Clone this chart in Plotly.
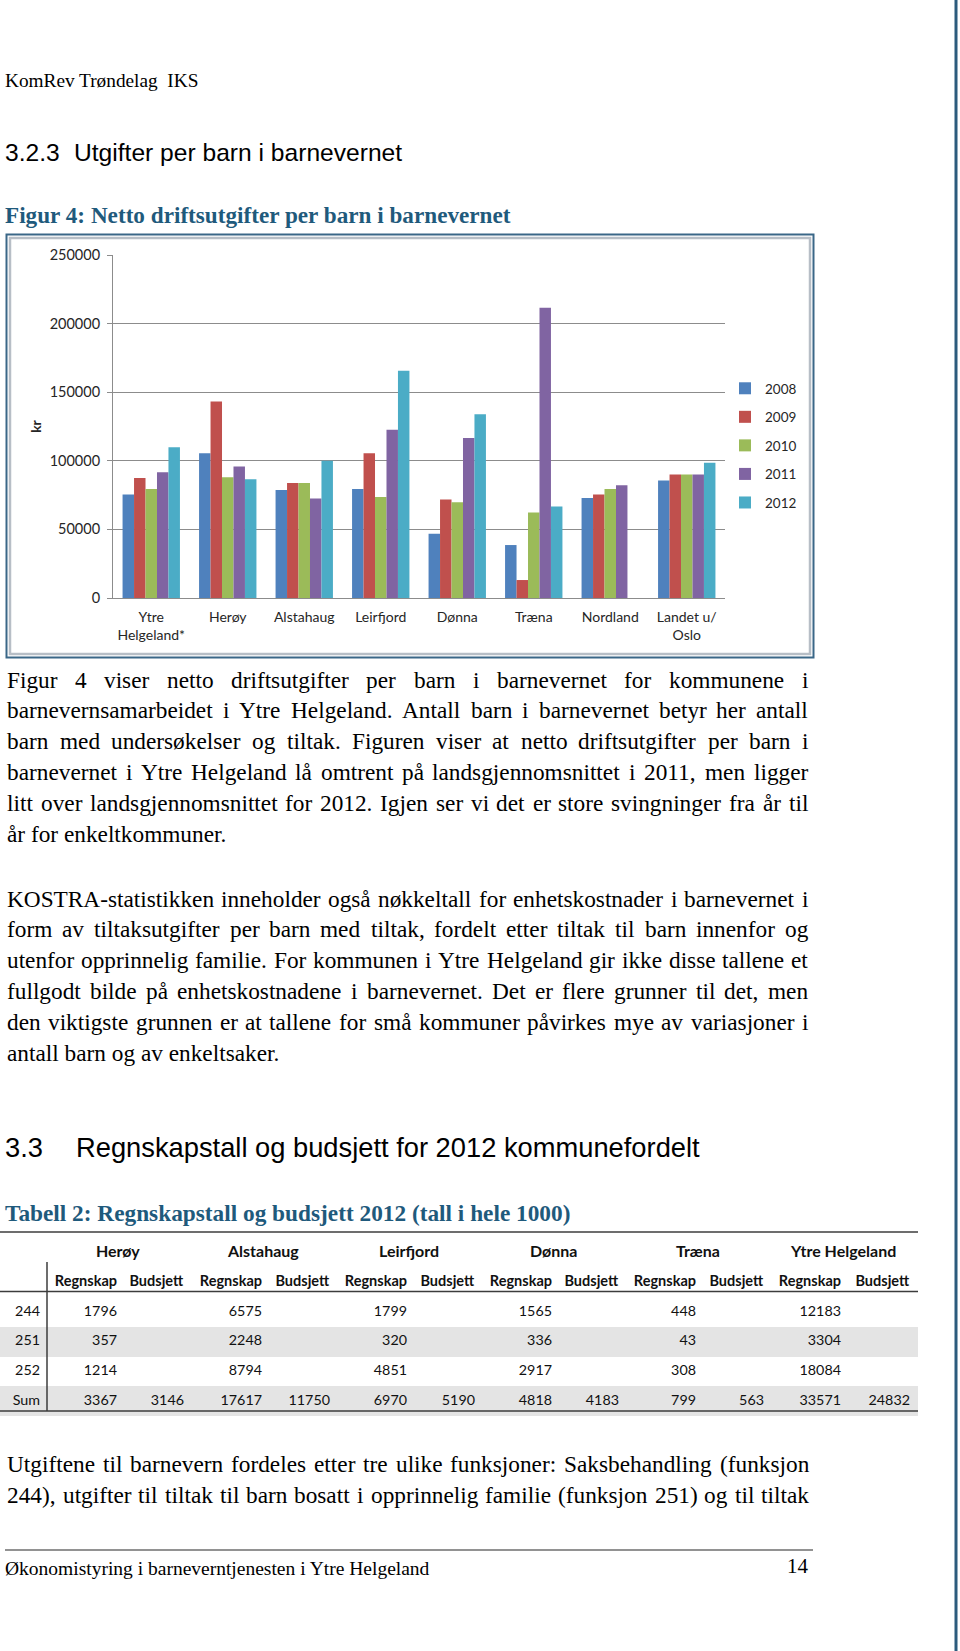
import plotly.graph_objects as go

W, H = 960, 1651


def X(px):
    return px / W


def Y(py):
    return 1 - py / H


# ---------------- chart data ----------------
categories = ["Ytre<br>Helgeland*", "Herøy", "Alstahaug", "Leirfjord", "Dønna",
              "Træna", "Nordland", "Landet u/<br>Oslo"]
years = ["2008", "2009", "2010", "2011", "2012"]
v2008 = [75400, 105500, 78800, 79500, 46800, 38600, 72800, 85600]
v2009 = [87500, 143300, 83900, 105500, 71800, 13100, 75400, 90000]
v2010 = [79500, 88000, 83900, 73700, 69800, 62300, 79500, 90000]
v2011 = [91700, 95800, 72500, 122700, 116600, 211500, 82200, 90000]
v2012 = [109900, 86600, 100100, 165600, 133900, 66700, None, 98500]
series = [v2008, v2009, v2010, v2011, v2012]
bar_colors = ["#4F81BD", "#C0504D", "#9BBB59", "#8064A2", "#4BACC6"]
y_ticks = [0, 50000, 100000, 150000, 200000, 250000]

# ---------------- table data ----------------
table_municipalities = ["Herøy", "Alstahaug", "Leirfjord", "Dønna", "Træna", "Ytre Helgeland"]
table_rows = ["244", "251", "252", "Sum"]
regnskap = {
    "Herøy": [1796, 357, 1214, 3367],
    "Alstahaug": [6575, 2248, 8794, 17617],
    "Leirfjord": [1799, 320, 4851, 6970],
    "Dønna": [1565, 336, 2917, 4818],
    "Træna": [448, 43, 308, 799],
    "Ytre Helgeland": [12183, 3304, 18084, 33571],
}
budsjett = {
    "Herøy": 3146,
    "Alstahaug": 11750,
    "Leirfjord": 5190,
    "Dønna": 4183,
    "Træna": 563,
    "Ytre Helgeland": 24832,
}

# ---------------- page text ----------------
header_text = "KomRev Trøndelag  IKS"
h323_num, h323_text = "3.2.3", "Utgifter per barn i barnevernet"
fig_caption = "Figur 4: Netto driftsutgifter per barn i barnevernet"
par1 = [
    "Figur 4 viser netto driftsutgifter per barn i barnevernet for kommunene i",
    "barnevernsamarbeidet i Ytre Helgeland. Antall barn i barnevernet betyr her antall",
    "barn med undersøkelser og tiltak. Figuren viser at netto driftsutgifter per barn i",
    "barnevernet i Ytre Helgeland lå omtrent på landsgjennomsnittet i 2011, men ligger",
    "litt over landsgjennomsnittet for 2012. Igjen ser vi det er store svingninger fra år til",
    "år for enkeltkommuner.",
]
par2 = [
    "KOSTRA-statistikken inneholder også nøkkeltall for enhetskostnader i barnevernet i",
    "form av tiltaksutgifter per barn med tiltak, fordelt etter tiltak til barn innenfor og",
    "utenfor opprinnelig familie. For kommunen i Ytre Helgeland gir ikke disse tallene et",
    "fullgodt bilde på enhetskostnadene i barnevernet. Det er flere grunner til det, men",
    "den viktigste grunnen er at tallene for små kommuner påvirkes mye av variasjoner i",
    "antall barn og av enkeltsaker.",
]
h33_num, h33_text = "3.3", "Regnskapstall og budsjett for 2012 kommunefordelt"
table_caption = "Tabell 2: Regnskapstall og budsjett 2012 (tall i hele 1000)"
par3 = [
    "Utgiftene til barnevern fordeles etter tre ulike funksjoner: Saksbehandling (funksjon",
    "244), utgifter til tiltak til barn bosatt i opprinnelig familie (funksjon 251) og til tiltak",
]
footer_text = "Økonomistyring i barneverntjenesten i Ytre Helgeland"
page_number = "14"

# ---------------- styles ----------------
SERIF = "Liberation Serif"
SANS = "Liberation Sans"
CAL = "Lato"
TEAL = "#1f5a7c"
TXT = "#262626"
GRID = "#8c8c8c"

# Times / Liberation Serif advance widths (per 1000 em)
TIMES = {" ": 250, ".": 250, ",": 250, ":": 278, ";": 278, "-": 333, "(": 333, ")": 333,
         "/": 278, "*": 500, "ø": 500, "å": 444, "æ": 667, "Ø": 722, "Å": 722, "Æ": 889}
for ch, w in zip("abcdefghijklmnopqrstuvwxyz",
                 [444, 500, 444, 500, 444, 333, 500, 500, 278, 278, 500, 278, 778, 500, 500,
                  500, 500, 333, 389, 278, 500, 500, 722, 500, 500, 444]):
    TIMES[ch] = w
for ch, w in zip("ABCDEFGHIJKLMNOPQRSTUVWXYZ",
                 [722, 667, 667, 722, 611, 556, 722, 722, 333, 389, 722, 611, 889, 722, 722,
                  556, 722, 667, 556, 611, 722, 722, 944, 722, 722, 611]):
    TIMES[ch] = w
for ch in "0123456789":
    TIMES[ch] = 500


def units(s):
    return sum(TIMES.get(c, 500) for c in s)


annotations = []


def text_ann(txt, x, y, size, family=SERIF, color="#000000", xanchor="left", bold=False):
    annotations.append(dict(
        text=("<b>%s</b>" % txt) if bold else txt, x=X(x), y=Y(y), xref="paper", yref="paper",
        xanchor=xanchor, yanchor="middle", showarrow=False, borderpad=0, borderwidth=0,
        font=dict(family=family, size=size, color=color)))


def paragraph(lines, y0, step, x0, x1, size, justify_last=False):
    for i, line in enumerate(lines):
        yc = y0 + i * step
        last = (i == len(lines) - 1) and not justify_last
        if last:
            text_ann(line, x0, yc, size)
            continue
        words = line.split(" ")
        wu = [units(w) for w in words]
        gaps = len(words) - 1
        s = size
        if (sum(wu) + gaps * 250) * s / 1000 > (x1 - x0):
            s = (x1 - x0) / ((sum(wu) + gaps * 250) / 1000)
        widths = [u * s / 1000 for u in wu]
        gap = (x1 - x0 - sum(widths)) / gaps
        x = x0
        for w, wd in zip(words, widths):
            text_ann(w, x, yc, s)
            x += wd + gap


# page header & headings
text_ann(header_text, 5, 80, 19.3)
text_ann(h323_num, 5, 152, 24.6, family=SANS)
text_ann(h323_text, 74, 152, 24.6, family=SANS)
text_ann(fig_caption, 5, 215, 23.2, color=TEAL, bold=True)

paragraph(par1, 679.5, 30.9, 7, 808, 23.3)
paragraph(par2, 898.5, 30.9, 7, 808, 23.3)

text_ann(h33_num, 5, 1147, 27.3, family=SANS)
text_ann(h33_text, 76, 1147, 27.3, family=SANS)
text_ann(table_caption, 5, 1213, 23.3, color=TEAL, bold=True)

paragraph(par3, 1464, 31, 7, 809, 23.3, justify_last=True)

text_ann(footer_text, 5, 1568, 19.5)
text_ann(page_number, 809, 1566, 21, xanchor="right")

# table municipality headers
col_w = [48, 77, 67, 78, 68, 77, 68, 77, 67, 77, 68, 77, 69]
edges = [0]
for w in col_w:
    edges.append(edges[-1] + w)
for k, m in enumerate(table_municipalities):
    cx = (edges[1 + 2 * k] + edges[3 + 2 * k]) / 2 - 2
    text_ann(m, cx, 1250, 16, family=CAL, color="#111111", xanchor="center", bold=True)

# ---------------- figure ----------------
fig = go.Figure()
for yr, vals, col in zip(years, series, bar_colors):
    fig.add_trace(go.Bar(x=categories, y=vals, name=yr, marker=dict(color=col, line=dict(width=0)),
                         legendgroup=yr))

# table
t_values = [table_rows]
for m in table_municipalities:
    t_values.append(regnskap[m])
    t_values.append(["", "", "", budsjett[m]])
band = ["#ffffff", "#e4e4e4", "#ffffff", "#e4e4e4"]
fig.add_trace(go.Table(
    columnwidth=col_w,
    domain=dict(x=[0, edges[-1] / W], y=[Y(1440), Y(1264)]),
    header=dict(values=[""] + ["<b>Regnskap</b>", "<b>Budsjett</b>"] * 6,
                align="right", height=28,
                fill=dict(color="white"), line=dict(width=0, color="white"),
                font=dict(family=CAL, size=14.5, color="#111111")),
    cells=dict(values=t_values, align="right", height=29.75,
               fill=dict(color=[band] * len(col_w)), line=dict(width=0, color="white"),
               font=dict(family=CAL, size=14.3, color="#111111")),
))

shapes = []


def line(x0, y0, x1, y1, color, width):
    shapes.append(dict(type="line", xref="paper", yref="paper", x0=X(x0), y0=Y(y0), x1=X(x1), y1=Y(y1),
                       line=dict(color=color, width=width), layer="above"))


def rect(x0, y0, x1, y1, color, width):
    shapes.append(dict(type="rect", xref="paper", yref="paper", x0=X(x0), y0=Y(y0), x1=X(x1), y1=Y(y1),
                       line=dict(color=color, width=width), fillcolor="rgba(0,0,0,0)", layer="below"))


# chart frame (double border)
rect(6.5, 234.5, 813.5, 657.5, "#3a6787", 2)
rect(10, 238, 810, 654, "#b7bec6", 2.5)
# page right border
line(956, 0, 956, H, "#2c5b7d", 3)
# table rules
line(0, 1232, 918, 1232, "#3c3c3c", 1.5)
line(0, 1291.5, 918, 1291.5, "#3c3c3c", 1.5)
line(0, 1411, 918, 1411, "#3c3c3c", 1.5)
line(47, 1262, 47, 1411, "#3c3c3c", 1.5)
# footer rule
line(5, 1550, 813, 1550, "#6e6e6e", 1.5)

fig.update_layout(
    width=W, height=H, margin=dict(l=0, r=0, t=0, b=0, pad=0, autoexpand=False),
    paper_bgcolor="white", plot_bgcolor="white",
    barmode="group", bargap=0.25, bargroupgap=0,
    showlegend=True,
    legend=dict(x=X(725), y=Y(373), xanchor="left", yanchor="top", tracegroupgap=8,
                font=dict(family=CAL, size=13.5, color=TXT), bgcolor="rgba(0,0,0,0)"),
    xaxis=dict(domain=[X(113), X(725)], showline=True, linecolor=GRID, linewidth=1,
               ticks="", tickfont=dict(family=CAL, size=14, color=TXT), ticklabelstandoff=6,
               automargin=False),
    yaxis=dict(domain=[Y(598), Y(255)], range=[0, 250000], tickvals=y_ticks, tickformat="d",
               showgrid=True, gridcolor=GRID, gridwidth=1, zeroline=False,
               showline=True, linecolor=GRID, linewidth=1,
               ticks="outside", ticklen=5, tickcolor=GRID, automargin=False,
               ticklabelstandoff=4,
               tickfont=dict(family=CAL, size=14.5, color=TXT),
               title=dict(text="<b>kr</b>", font=dict(family=CAL, size=14, color=TXT), standoff=4)),
    annotations=annotations,
    shapes=shapes,
)

fig.write_html(
    "out.html",
    config={"displayModeBar": False},
    post_script="document.body.style.margin='0px';document.body.style.overflow='hidden';",
)
